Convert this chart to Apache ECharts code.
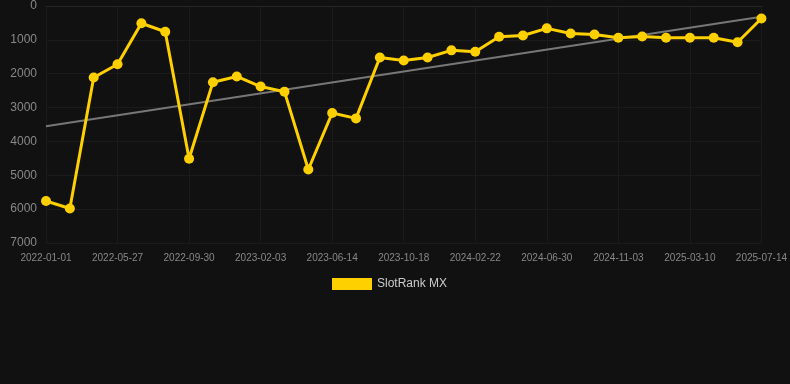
<!DOCTYPE html>
<html>
<head>
<meta charset="utf-8">
<script src="https://cdn.jsdelivr.net/npm/echarts@6/dist/echarts.min.js"></script>
<style>
    html, body { margin: 0; padding: 0; background: #111111; }
    #chart { width: 790px; height: 384px; }
</style>
</head>
<body>
<div id="chart"></div>
<script>
var dates = [
    '2022-01-01', '2022-02-18', '2022-04-08', '2022-05-27', '2022-07-09', '2022-08-20',
    '2022-09-30', '2022-11-11', '2022-12-23', '2023-02-03', '2023-03-18', '2023-05-01',
    '2023-06-14', '2023-07-26', '2023-09-06', '2023-10-18', '2023-11-29', '2024-01-10',
    '2024-02-22', '2024-04-04', '2024-05-17', '2024-06-30', '2024-08-11', '2024-09-22',
    '2024-11-03', '2024-12-15', '2025-01-26', '2025-03-10', '2025-04-21', '2025-06-02',
    '2025-07-14'
];
var rankMX = [
    5760, 5980, 2110, 1720, 510, 760, 4510, 2250, 2080, 2380, 2530, 4830,
    3160, 3320, 1520, 1610, 1520, 1310, 1350, 910, 870, 660, 810, 840,
    940, 900, 940, 940, 940, 1070, 370
];
// trend line end points (first and last category)
var trendStart = 3550;
var trendEnd = 320;
var yTicks = [0, 1000, 2000, 3000, 4000, 5000, 6000, 7000];

var trend = dates.map(function (d, i) {
    if (i === 0) return trendStart;
    if (i === dates.length - 1) return trendEnd;
    return null;
});

var chart = echarts.init(document.getElementById('chart'));
var option = {
    backgroundColor: '#111111',
    animation: false,
    grid: {
        left: 46,
        right: 28,
        top: 6,
        bottom: 141
    },
    legend: {
        data: ['SlotRank MX'],
        top: 273,
        left: 327,
        itemWidth: 40,
        itemHeight: 12,
        icon: 'rect',
        textStyle: {
            color: '#cccccc',
            fontSize: 12,
            fontFamily: 'Liberation Sans, Arial, sans-serif'
        }
    },
    xAxis: {
        type: 'category',
        data: dates,
        boundaryGap: false,
        axisTick: { show: false },
        axisLine: { lineStyle: { color: '#262626' } },
        splitLine: {
            show: true,
            interval: 2,
            lineStyle: { color: '#1b1b1b' }
        },
        axisLabel: {
            interval: 2,
            color: '#888888',
            fontSize: 10,
            margin: 10,
            fontFamily: 'Liberation Sans, Arial, sans-serif'
        }
    },
    yAxis: {
        type: 'value',
        inverse: true,
        min: yTicks[0],
        max: yTicks[yTicks.length - 1],
        interval: 1000,
        axisLine: { show: false },
        axisTick: { show: false },
        splitLine: { lineStyle: { color: '#1b1b1b' } },
        axisLabel: {
            color: '#888888',
            fontSize: 12,
            margin: 9,
            formatter: function (v) { return String(v); },
            fontFamily: 'Liberation Sans, Arial, sans-serif'
        }
    },
    series: [
        {
            name: 'SlotRank MX',
            type: 'line',
            data: rankMX,
            symbol: 'circle',
            symbolSize: 10,
            itemStyle: { color: '#ffd000' },
            lineStyle: { color: '#ffd000', width: 3 },
            z: 3
        },
        {
            name: 'trend',
            type: 'line',
            data: trend,
            connectNulls: true,
            symbol: 'none',
            lineStyle: { color: '#777777', width: 2 },
            z: 2
        }
    ]
};
chart.setOption(option);
</script>
</body>
</html>
